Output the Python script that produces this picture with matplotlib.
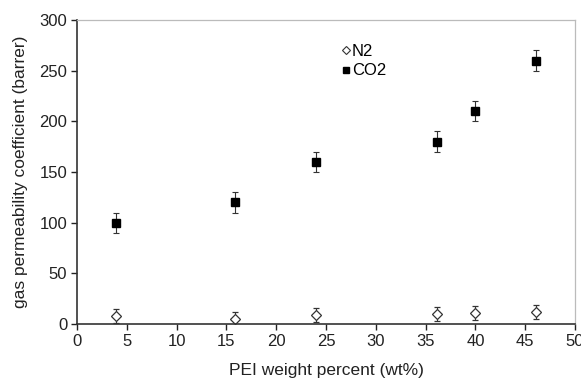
import matplotlib
matplotlib.use("Agg")
import matplotlib.pyplot as plt
from matplotlib.lines import Line2D

plt.rcParams['font.family'] = ['Liberation Sans', 'DejaVu Sans']

pei_wt = [3.9, 15.9, 24.0, 36.1, 40.0, 46.1]
co2 = [100, 120, 160, 180, 210, 260]
co2_err = [10, 10, 10, 10, 10, 10]
n2 = [8, 5, 9, 10, 11, 12]
n2_err = [7, 7, 7, 7, 7, 7]

fig = plt.figure(figsize=(5.81, 3.81), dpi=100)
ax = fig.add_axes([77/581, 1 - 324/381, (575-77)/581, (324-20)/381])

ax.errorbar(pei_wt, n2, yerr=n2_err, fmt='D', ms=5, mfc='white', mec='#333333',
            mew=0.9, ecolor='#333333', elinewidth=0.8, capsize=2.5, capthick=0.8)
ax.errorbar(pei_wt, co2, yerr=co2_err, fmt='s', ms=5.5, mfc='black', mec='black',
            ecolor='#333333', elinewidth=0.8, capsize=2.5, capthick=0.8)

ax.set_xlim(0, 50)
ax.set_ylim(0, 300)
ax.set_xticks(range(0, 51, 5))
ax.set_yticks(range(0, 301, 50))
ax.tick_params(direction='out', length=4, width=1, labelsize=12, colors='#222222', pad=3)

for s in ['top', 'right']:
    ax.spines[s].set_color('#bbbbbb')
    ax.spines[s].set_linewidth(0.9)
for s in ['left', 'bottom']:
    ax.spines[s].set_color('#333333')
    ax.spines[s].set_linewidth(1.2)

ax.set_xlabel('PEI weight percent (wt%)', fontsize=12.5, color='#222222', labelpad=10)
ax.set_ylabel('gas permeability coefficient (barrer)', fontsize=12.5, color='#222222', labelpad=8)

handles = [
    Line2D([], [], ls='none', marker='D', ms=4, mfc='white', mec='#333333', mew=0.8),
    Line2D([], [], ls='none', marker='s', ms=4.5, mfc='black', mec='black'),
]
ax.legend(handles, ['N2', 'CO2'], loc='upper left', bbox_to_anchor=(0.53, 0.922),
          frameon=False, fontsize=12, handletextpad=0.05, handlelength=0.6,
          borderpad=0, borderaxespad=0, labelspacing=0.28)

fig.savefig('out.png', dpi=100)
